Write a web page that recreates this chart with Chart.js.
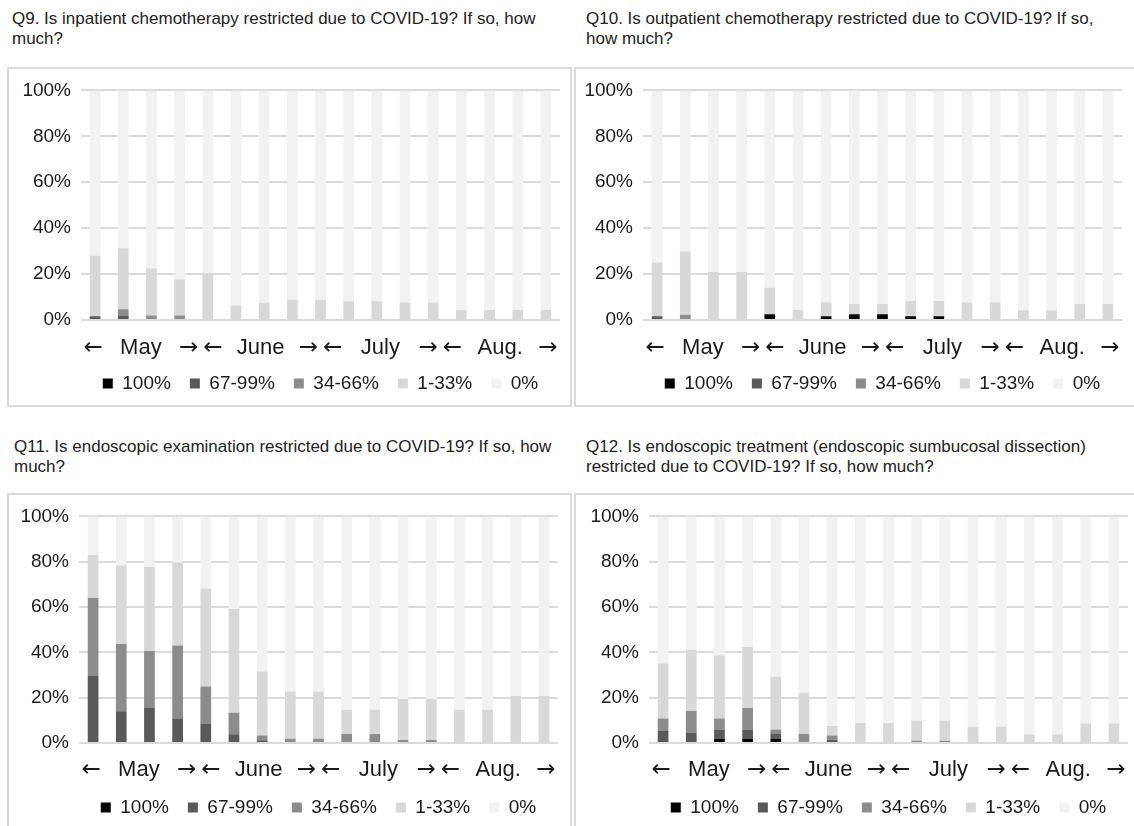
<!DOCTYPE html>
<html><head><meta charset="utf-8">
<script src="https://cdn.jsdelivr.net/npm/chart.js@4.4.1/dist/chart.umd.min.js"></script>
<style>
html,body{margin:0;padding:0;background:#fff;width:1134px;height:826px;overflow:hidden;position:relative;font-family:"Liberation Sans",Arial,sans-serif;}
.title{position:absolute;font-size:17px;line-height:20px;color:#222;white-space:nowrap;}
.box{position:absolute;border:2px solid #dadada;box-sizing:border-box;overflow:hidden;}
.box canvas{position:absolute;left:0;top:0;}
</style></head><body>
<script>
// ---------- data ----------
const surveys = ['S1','S2','S3','S4','S5','S6','S7','S8','S9','S10','S11','S12','S13','S14','S15','S16','S17'];
const months = ['May','June','July','Aug.'];
const levels = ['100%','67-99%','34-66%','1-33%','0%'];
const levelColors = ['#000000','#595959','#8c8c8c','#d8d8d8','#f2f2f2'];
const yTicks = [0,20,40,60,80,100];

const titleQ9  = ['Q9. Is inpatient chemotherapy restricted due to COVID-19? If so, how','much?'];
const titleQ10 = ['Q10. Is outpatient chemotherapy restricted due to COVID-19? If so,','how much?'];
const titleQ11 = ['Q11. Is endoscopic examination restricted due to COVID-19? If so, how','much?'];
const titleQ12 = ['Q12. Is endoscopic treatment (endoscopic sumbucosal dissection)','restricted due to COVID-19? If so, how much?'];

// Q9 inpatient chemotherapy
const q9_100 = [0,0,0,0,0,0,0,0,0,0,0,0,0,0,0,0,0];
const q9_67  = [1.6,2.0,0,0,0,0,0,0,0,0,0,0,0,0,0,0,0];
const q9_34  = [0,2.7,2.0,2.0,0,0,0,0,0,0,0,0,0,0,0,0,0];
const q9_1   = [26.4,26.5,20.5,15.8,20.5,6.3,7.5,8.8,8.8,8.2,8.2,7.6,7.6,4.4,4.4,4.4,4.4];
const q9_0   = [72.0,68.8,77.5,82.2,79.5,93.7,92.5,91.2,91.2,91.8,91.8,92.4,92.4,95.6,95.6,95.6,95.6];

// Q10 outpatient chemotherapy
const q10_100 = [0,0,0,0,2.5,0,1.6,2.5,2.5,1.6,1.6,0,0,0,0,0,0];
const q10_67  = [1.6,0,0,0,0,0,0,0,0,0,0,0,0,0,0,0,0];
const q10_34  = [0,2.3,0,0,0,0,0,0,0,0,0,0,0,0,0,0,0];
const q10_1   = [23.4,27.5,20.9,20.9,11.5,4.4,6.1,4.5,4.5,6.7,6.7,7.6,7.6,4.3,4.3,7.0,7.0];
const q10_0   = [75.0,70.2,79.1,79.1,86.0,95.6,92.3,93.0,93.0,91.7,91.7,92.4,92.4,95.7,95.7,93.0,93.0];

// Q11 endoscopic examination
const q11_100 = [0,0,0,0,0,0,0,0,0,0,0,0,0,0,0,0,0];
const q11_67  = [29.6,14.0,15.4,10.6,8.6,3.9,1.2,0,0,0,0,0,0,0,0,0,0];
const q11_34  = [34.4,29.7,25.2,32.4,16.3,9.5,2.1,1.9,1.9,4.0,4.0,1.3,1.3,0,0,0,0];
const q11_1   = [19.0,34.6,37.1,36.6,43.3,45.7,28.2,20.8,20.8,10.7,10.7,18.1,18.1,14.7,14.7,20.7,20.7];
const q11_0   = [17.0,21.7,22.3,20.4,31.8,40.9,68.5,77.3,77.3,85.3,85.3,80.6,80.6,85.3,85.3,79.3,79.3];

// Q12 endoscopic treatment (ESD)
const q12_100 = [0,0,1.9,1.9,1.9,0,0,0,0,0,0,0,0,0,0,0,0];
const q12_67  = [5.3,4.6,4.1,4.1,2.1,0,1.4,0,0,0,0,0,0,0,0,0,0];
const q12_34  = [5.5,9.5,4.8,9.5,2.0,4.0,1.9,0,0,1.0,1.0,0,0,0,0,0,0];
const q12_1   = [24.3,27.1,27.8,26.9,23.1,18.3,4.2,8.8,8.8,8.8,8.8,7.2,7.2,3.8,3.8,8.6,8.6];
const q12_0   = [64.9,58.8,61.4,57.6,70.9,77.7,92.5,91.2,91.2,90.2,90.2,92.8,92.8,96.2,96.2,91.4,91.4];

// ---------- layout (page positions, not data) ----------
const FONT = '"Liberation Sans", Arial, sans-serif';
const TXT = '#1a1a1a';
const YAXIS_W = 60;
const panels = [
  {title:titleQ9,  series:[q9_100,q9_67,q9_34,q9_1,q9_0],
   tx:12, ty:9, bx:7, by:67, bw:565, bh:340, pad:{left:12,right:10,top:20,bottom:2}, xh:35, mb:34},
  {title:titleQ10, series:[q10_100,q10_67,q10_34,q10_1,q10_0],
   tx:586, ty:9, bx:574, by:67, bw:564, bh:340, pad:{left:7,right:14,top:20,bottom:2}, xh:35, mb:34},
  {title:titleQ11, series:[q11_100,q11_67,q11_34,q11_1,q11_0],
   tx:14, ty:437, bx:7, by:493, bw:565, bh:340, pad:{left:10,right:12,top:17,bottom:4}, xh:36, mb:33},
  {title:titleQ12, series:[q12_100,q12_67,q12_34,q12_1,q12_0],
   tx:586, ty:437, bx:574, by:493, bw:564, bh:340, pad:{left:13,right:8,top:17,bottom:4}, xh:36, mb:33}
];

const monthPlugin = {
  id: 'monthRow',
  afterDraw(chart, args, opts) {
    const {ctx, chartArea} = chart;
    const n = opts.months.length;
    const q = (chartArea.right - chartArea.left) / n;
    const y = chartArea.bottom + opts.baseline;
    ctx.save();
    ctx.fillStyle = TXT;
    ctx.textBaseline = 'alphabetic';
    opts.months.forEach((m, i) => {
      const x0 = chartArea.left + i * q;
      ctx.font = '23px "DejaVu Sans", sans-serif';
      ctx.textAlign = 'left';   ctx.fillText('\u2190', x0 + 2.5, y);
      ctx.textAlign = 'right';  ctx.fillText('\u2192', x0 + q - 2.5, y);
      ctx.font = '22px ' + FONT;
      ctx.textAlign = 'center'; ctx.fillText(m, x0 + q / 2, y);
    });
    ctx.restore();
  }
};

// centre the legend row on the plot area instead of the whole canvas
const legendCenter = {
  id: 'legendCenter',
  afterLayout(chart) {
    const lg = chart.legend, ca = chart.chartArea;
    if (!lg) return;
    lg.left = ca.left; lg.right = ca.right; lg.width = ca.right - ca.left;
  }
};

panels.forEach(p => {
  const t = document.createElement('div');
  t.className = 'title';
  t.style.left = p.tx + 'px'; t.style.top = p.ty + 'px';
  t.innerHTML = p.title.join('<br>');
  document.body.appendChild(t);

  const box = document.createElement('div');
  box.className = 'box';
  box.style.left = p.bx + 'px'; box.style.top = p.by + 'px';
  box.style.width = p.bw + 'px'; box.style.height = p.bh + 'px';
  const cw = p.bw - 4, ch = p.bh - 4;
  const cv = document.createElement('canvas');
  cv.width = cw; cv.height = ch;
  cv.style.width = cw + 'px'; cv.style.height = ch + 'px';
  box.appendChild(cv);
  document.body.appendChild(box);

  new Chart(cv.getContext('2d'), {
    type: 'bar',
    data: {
      labels: surveys,
      datasets: levels.map((lv, i) => ({
        label: lv,
        data: p.series[i],
        backgroundColor: levelColors[i],
        borderWidth: 0,
        barPercentage: 0.38,
        categoryPercentage: 1.0
      }))
    },
    options: {
      responsive: false,
      animation: false,
      devicePixelRatio: 1,
      layout: {padding: p.pad},
      plugins: {
        tooltip: {enabled: false},
        legend: {
          position: 'bottom',
          labels: {boxWidth: 10, boxHeight: 10, padding: 19, color: TXT, font: {family: FONT, size: 19}}
        },
        monthRow: {months: months, baseline: p.mb}
      },
      scales: {
        x: {
          stacked: true,
          grid: {display: false, drawTicks: false},
          border: {display: false},
          ticks: {display: false},
          title: {display: true, text: ' ', font: {family: FONT, size: 22, lineHeight: 1.2}, padding: {top: 0, bottom: p.xh - 26.4}}
        },
        y: {
          stacked: true,
          min: 0, max: 100,
          afterBuildTicks: axis => { axis.ticks = yTicks.map(v => ({value: v})); },
          afterFit: axis => { axis.width = YAXIS_W; },
          grid: {color: '#dadada', lineWidth: 2, drawTicks: false},
          border: {display: false},
          ticks: {padding: 10, color: TXT, font: {family: FONT, size: 19}, callback: v => v + '%'}
        }
      }
    },
    plugins: [monthPlugin, legendCenter]
  });
});
</script>
</body></html>
